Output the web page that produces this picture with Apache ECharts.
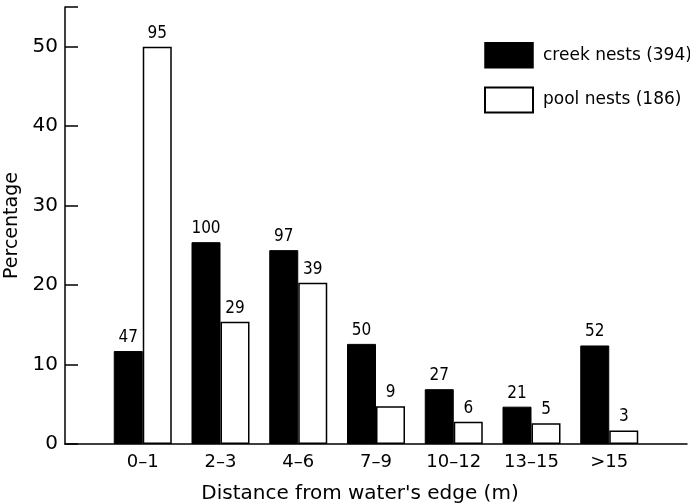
<!DOCTYPE html>
<html>
<head>
<meta charset="utf-8">
<script src="https://cdn.jsdelivr.net/npm/echarts@6/dist/echarts.min.js"></script>
<style>
html,body{margin:0;padding:0;background:#fff;}
#chart{width:690px;height:504px;}
</style>
</head>
<body>
<div id="chart"></div>
<script>
const categories = ['', '0\u20131', '2\u20133', '4\u20136', '7\u20139', '10\u201312', '13\u201315', '>15', ''];
const creekPct = [null, 11.7, 25.4, 24.4, 12.6, 6.9, 4.7, 12.4, null];
const poolPct = [null, 50.0, 15.4, 20.3, 4.75, 2.8, 2.6, 1.7, null];
const creekCounts = ['', '47', '100', '97', '50', '27', '21', '52', ''];
const poolCounts = ['', '95', '29', '39', '9', '6', '5', '3', ''];
const yTicks = [0, 10, 20, 30, 40, 50];
const seriesNames = ['creek nests (394)', 'pool nests (186)'];
const xTitle = "Distance from water's edge (m)";
const yTitle = 'Percentage';

const FONT = '"DejaVu Sans", sans-serif';
const NARROW = '"Liberation Sans Narrow", "DejaVu Sans Condensed", "DejaVu Sans", sans-serif';
const chart = echarts.init(document.getElementById('chart'), null, {renderer: 'canvas'});
chart.setOption({
  animation: false,
  backgroundColor: '#fff',
  textStyle: {fontFamily: FONT, color: '#000'},
  grid: {left: 65, right: 3, top: 7, bottom: 60, containLabel: false, outerBoundsMode: 'none'},
  legend: {
    left: 479, top: 37, orient: 'vertical', icon: 'rect',
    itemWidth: 48, itemHeight: 25, itemGap: 18, align: 'left',
    textStyle: {fontFamily: FONT, fontSize: 17, color: '#000', padding: [0, 0, 0, 5]},
    data: [
      {name: seriesNames[0], itemStyle: {color: '#000', borderColor: '#000', borderWidth: 1.5}},
      {name: seriesNames[1], itemStyle: {color: '#fff', borderColor: '#000', borderWidth: 2}}
    ]
  },
  xAxis: {
    type: 'category', data: categories, boundaryGap: false,
    axisLine: {lineStyle: {color: '#000', width: 1.5}},
    axisTick: {show: false},
    axisLabel: {fontFamily: FONT, fontSize: 18, color: '#000', margin: 9, interval: 0},
    name: xTitle, nameLocation: 'middle', nameGap: 40,
    nameTextStyle: {fontFamily: FONT, fontSize: 20, color: '#000', padding: [0, 32, 0, 0]}
  },
  yAxis: {
    type: 'value', min: 0, max: 55, interval: 10,
    axisLine: {show: true, lineStyle: {color: '#000', width: 1.5}},
    axisTick: {show: true, inside: true, length: 13, lineStyle: {color: '#000', width: 1.5}},
    splitLine: {show: false},
    axisLabel: {fontFamily: FONT, fontSize: 20, color: '#000', margin: 7,
      formatter: v => (yTicks.indexOf(v) >= 0 ? String(v) : '')},
    name: yTitle, nameLocation: 'middle', nameGap: 38, nameRotate: 90,
    nameTextStyle: {fontFamily: FONT, fontSize: 19, color: '#000'}
  },
  series: [
    {
      name: seriesNames[0], type: 'bar', data: creekPct, barWidth: 29, barGap: '0%',
      itemStyle: {color: '#000', borderColor: '#000', borderWidth: 1},
      label: {show: true, position: 'top', distance: 5, fontFamily: NARROW, fontSize: 17, color: '#000',
        formatter: p => creekCounts[p.dataIndex]}
    },
    {
      name: seriesNames[1], type: 'bar', data: poolPct, barWidth: 29, barGap: '0%',
      itemStyle: {color: '#fff', borderColor: '#000', borderWidth: 1.5},
      label: {show: true, position: 'top', distance: 5, fontFamily: NARROW, fontSize: 17, color: '#000',
        formatter: p => poolCounts[p.dataIndex]}
    }
  ]
});
</script>
</body>
</html>
